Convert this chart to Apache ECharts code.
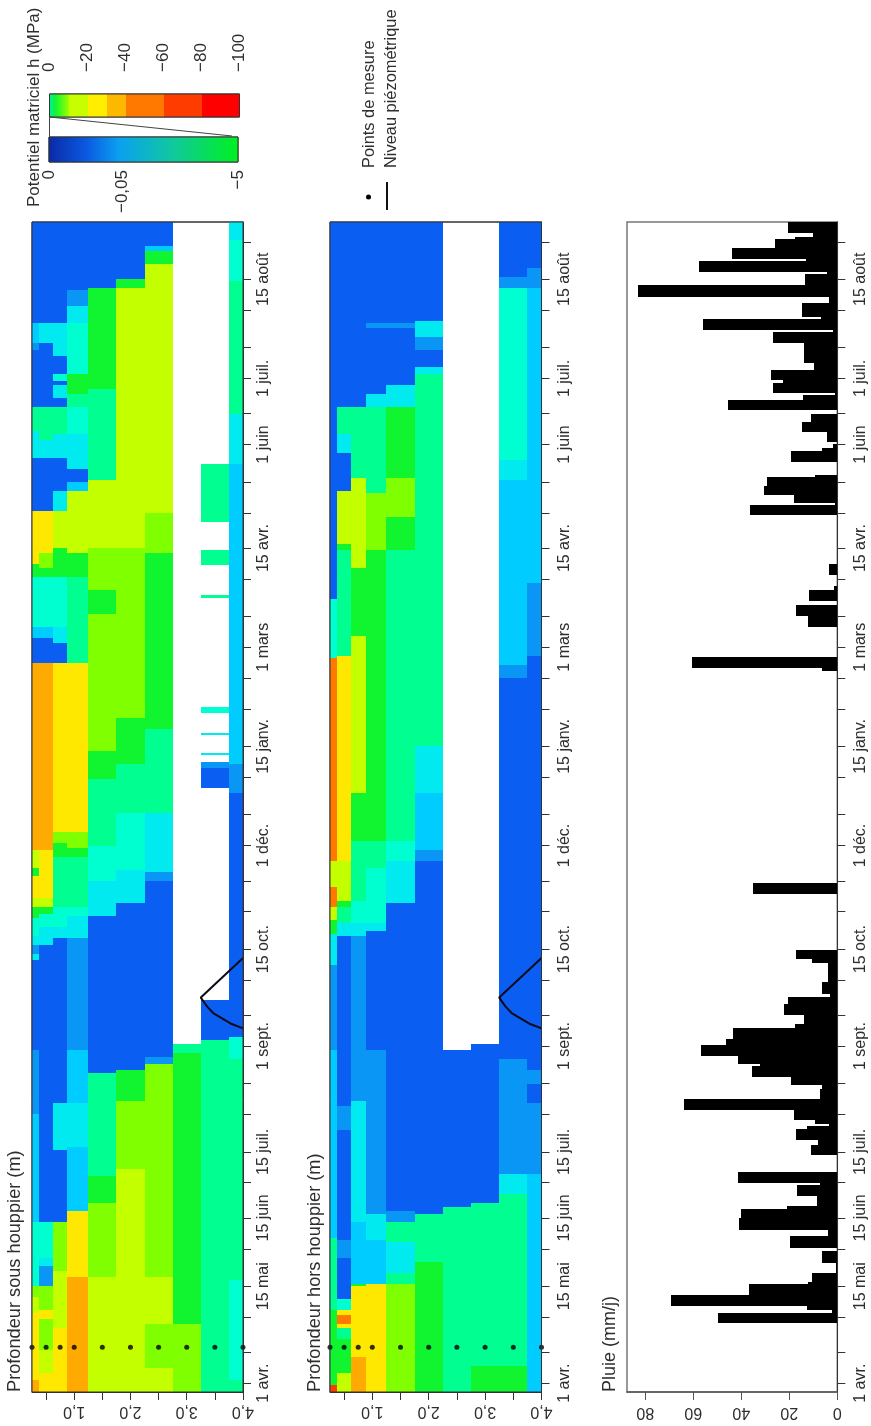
<!DOCTYPE html>
<html><head><meta charset="utf-8">
<style>html,body{margin:0;padding:0;background:#fff}#c{width:871px;height:1426px;filter:blur(0.5px)}</style>
<script src="https://cdn.jsdelivr.net/npm/echarts@6/dist/echarts.min.js"></script>
</head><body><div id="c"></div>
<script>
// ---- time axis (days since 1 avril) ----
const tickDays = [0,14,30,44,61,75,91,105,122,136,153,167,183,197,214,228,244,258,275,289,306,320,334,348,365,379,395,409,426,440,456,470,487,501,518];
const labelDays = [0,44,75,105,153,197,244,289,334,379,426,456,501];
const labelTexts = ['1 avr.','15 mai','15 juin','15 juil.','1 sept.','15 oct.','1 déc.','15 janv.','1 mars','15 avr.','1 juin','1 juil.','15 août'];
// ---- depth axis ----
const depthEdges = [0.25,0.38,0.63,0.88,1.25,1.75,2.25,2.75,3.25,3.75,4];
const depthTicks = [0.5,1,1.5,2,2.5,3,3.5,4];
const depthLabels = [1,2,3,4];
const pointDepths = [0.25,0.5,0.75,1,1.5,2,2.5,3,3.5,4];
const pointDay = 16.3;
// ---- potential classes, from wet (0) to dry (12) ----
const classColors = ['#0a5ff2','#0a96f5','#00ccff','#00eaf0','#00ffd0','#00ff90','#10f530','#80ff00','#c4ff00','#ffe800','#ffaa00','#ff7800','#ff3c00'];
// ---- sous houppier: [day until which the class holds, class] per depth layer ----
const sous0 = [[1.4,10],[32,9],[39,8],[44,7],[73,4],[122,2],[151,1],[192,0],[195,3],[199,1],[203,3],[211,4],[216,6],[220,8],[230,9],[234,6],[242,8],[327,10],[338,0],[343,2],[366,4],[372,6],[396,9],[420,0],[432,3],[443,5],[469,0],[472,1],[481,2],[527,0]];
const sous1 = [[4.5,9],[15,8],[29,7],[33,9],[44,7],[53,1],[57,3],[73,4],[199,0],[207,3],[213,4],[216,6],[220,8],[242,9],[327,10],[338,0],[343,2],[366,4],[370,6],[377,7],[396,9],[420,0],[428,3],[443,5],[472,0],[481,3],[527,0]];
const sous2 = [[25,9],[51,8],[73,7],[106,0],[127,3],[202,0],[207,3],[216,4],[239,5],[245,6],[250,7],[327,9],[336,0],[343,3],[366,4],[379,6],[396,8],[405,3],[420,0],[431,3],[443,5],[447,0],[453,3],[455,0],[458,4],[466,0],[481,3],[527,0]];
const sous3 = [[48,10],[78,9],[107,2],[127,3],[151,2],[202,1],[212,3],[216,4],[239,5],[243,6],[250,7],[327,9],[366,5],[377,6],[405,8],[409,2],[415,0],[431,3],[443,4],[449,5],[458,6],[481,4],[489,3],[496,1],[527,0]];
const sous4 = [[48,8],[82,7],[94,6],[141,5],[212,0],[228,3],[244,4],[274,5],[287,6],[349,7],[360,6],[379,7],[410,8],[451,5],[497,6],[527,0]];
const sous5 = [[97,8],[128,7],[142,6],[218,0],[233,3],[259,4],[281,5],[302,6],[379,7],[497,8],[501,6],[527,0]];
const sous6 = [[7,8],[27,7],[48,8],[145,7],[148,1],[228,0],[232,1],[259,3],[297,5],[377,6],[395,7],[508,8],[514,6],[516,2],[527,0]];
const sous7 = [[27,7],[150,6],[154,5],[527,null]];
const sous8 = [[155.6,5],[174,0],[270,null],[279,0],[282,1],[285,null],[286,3],[294,null],[295,3],[304,null],[307,4],[356.5,null],[357.5,5],[371.5,null],[378,5],[391,null],[417,5],[527,null]];
const sous9 = [[1.4,5],[47,4],[147,5],[157,4],[268,0],[281,1],[417,2],[440,3],[500,5],[519,4],[527,3]];
// ---- hors houppier ----
const hors0 = [[-1,12],[33,6],[66,5],[151,2],[190,1],[204,3],[210,6],[216,8],[225,11],[237,8],[329,11],[356,4],[527,0]];
const hors1 = [[4.5,8],[20,6],[25,5],[27,9],[31,11],[33,9],[38,4],[57,0],[65,1],[115,0],[126,1],[203,0],[209,3],[216,5],[219,6],[237,8],[330,9],[378,5],[381,6],[405,8],[422,0],[431,3],[443,5],[527,0]];
const hors2 = [[12,10],[44,9],[45,6],[73,2],[128,3],[203,1],[209,3],[219,4],[246,5],[268,6],[339,8],[370,6],[411,8],[443,5],[527,0]];
const hors3 = [[45,9],[65,2],[77,3],[151,1],[205,0],[209,3],[234,4],[246,5],[378,6],[404,7],[443,5],[449,3],[479,0],[481,1],[527,0]];
const hors4 = [[45,7],[50,5],[64,3],[73,5],[78,1],[218,0],[237,3],[246,4],[378,5],[393,6],[411,7],[443,6],[453,3],[479,0],[481,1],[527,0]];
const hors5 = [[55,6],[77,5],[237,0],[242,1],[268,2],[289,3],[458,5],[461,3],[469,0],[475,1],[482,3],[527,0]];
const hors6 = [[80,5],[151,0],[527,null]];
const hors7 = [[8,6],[82,5],[154,0],[527,null]];
const hors8 = [[8,6],[86,5],[95,3],[147,1],[320,0],[326,1],[410,2],[419,3],[497,4],[502,1],[527,0]];
const hors9 = [[95,2],[127,1],[136,0],[142,1],[330,0],[363,1],[497,2],[506,1],[527,0]];
// ---- niveau piézométrique ----
const piezoDays = [161,163,168,171,175,193];
const piezoDepth = [4,3.8,3.47,3.36,3.25,4];
// ---- pluie ----
const rainEdges = [27.3,31.9,33.1,35.2,40,44.9,45.9,50.2,54.6,60,61.5,66.7,69.7,74.8,79.1,80.6,85.1,90,91,95.9,103.4,108,110.2,115.5,116.6,117.8,119.3,124.2,128.8,133.7,135.2,139,143.8,144.7,148.4,153.4,156.4,161.4,163.2,167.3,172,175.3,176.5,182,190.5,192.3,196.8,222.2,227.2,323.3,324.4,329.4,343.3,348.4,353,355.2,360.2,362,367,371.9,393.8,398.4,399.4,402.9,407.4,411.2,412.3,418,423,424.5,426.4,427.1,431.6,436.2,440,441.5,446,448.3,449.3,453.9,455.1,460,463.1,467.5,472,477,478.1,483.1,484.1,490.2,492.9,498.2,503.2,504.3,509.3,510.3,515.2,519.4,520.2,522.1,527];
const rainMm = [49.6,2.4,12.5,69.4,36.8,12,10.4,0.5,6.5,0,19.7,3.75,41,40.3,20.8,8.6,16.7,7.2,41.25,0,11,8,17,12.8,3.3,9.3,18,63.9,7,6.5,19.3,35.7,32,41.4,56.8,46.25,43.3,17.6,13.9,22,20.4,3,6.5,3.75,10.7,17,0,35,0,6.5,60.5,0,12,17,0,11.7,1.3,0,3.3,0,36.2,1,18,30.7,29.2,9.3,0,19.2,6.5,1.7,0,4.3,14.9,11.1,0,45.6,14.2,1,26.7,22.5,27.8,9.6,13.75,13.9,26.7,1.7,56,6.8,14.6,3.6,82.9,13.5,4.4,57.8,13,43.9,25.8,17.6,10,20.6];
const rainTicks = [0,20,40,60,80];
// ---- legend scales ----
const dryStops = [0,10,20,30,40,60,80,100];
const dryColors = ['grad','#c8ff00','#ffee00','#ffb800','#ff7800','#ff3c00','#ff0000'];
const dryTicks = [0,20,40,60,80,100];
const wetTicks = [0,0.39,1];
const wetTexts = ['0','−0,05','−5'];

const FONT = '"Liberation Sans", Arial, sans-serif';
const INK = '#2e2e2e';
const FS = 16;

function heatData(layers){
  const out = [];
  layers.forEach((layer,i)=>{
    let start = -4;
    layer.forEach(([end,cls])=>{
      if(cls!==null) out.push([depthEdges[i],depthEdges[i+1],start,end,cls]);
      start = end;
    });
  });
  return out;
}
function rectItem(p0,p1,fill){
  const x0=Math.round(p0[0]),x1=Math.round(p1[0]),y0=Math.round(p0[1]),y1=Math.round(p1[1]);
  return {type:'rect',shape:{x:Math.min(x0,x1),y:Math.min(y0,y1),width:Math.abs(x1-x0),height:Math.abs(y1-y0)},style:{fill}};
}
function heatItem(params,api){
  return rectItem(api.coord([api.value(0),api.value(3)]),api.coord([api.value(1),api.value(2)]),classColors[api.value(4)]);
}
function dayAxis(grid,margin){
  return {type:'value',gridIndex:grid,position:'right',min:-4,max:527,splitLine:{show:false},
    axisLine:{show:true,onZero:false,lineStyle:{color:'#333',width:1}},
    axisTick:{show:true,length:8,customValues:tickDays,lineStyle:{color:'#333',width:1}},
    axisLabel:{show:true,rotate:90,margin,color:INK,fontSize:FS,fontFamily:FONT,customValues:labelDays,
      formatter:v=>labelTexts[labelDays.indexOf(v)]}};
}
function depthAxis(grid){
  return {type:'value',gridIndex:grid,position:'bottom',min:0.25,max:4,splitLine:{show:false},
    axisLine:{show:true,onZero:false,lineStyle:{color:'#333',width:1}},
    axisTick:{show:true,length:8,customValues:depthTicks,lineStyle:{color:'#333',width:1}},
    axisLabel:{show:true,rotate:180,margin:11,color:INK,fontSize:FS,fontFamily:FONT,customValues:depthLabels,
      formatter:v=>v.toFixed(1).replace('.',',')}};
}
function heatSeries(grid,layers){
  return {type:'custom',xAxisIndex:grid,yAxisIndex:grid,renderItem:heatItem,clip:true,silent:true,
    encode:{x:[0,1],y:[2,3]},data:heatData(layers),z:2};
}
function piezoSeries(grid){
  return {type:'line',xAxisIndex:grid,yAxisIndex:grid,data:piezoDepth.map((d,i)=>[d,piezoDays[i]]),symbol:'none',
    clip:true,lineStyle:{color:'#0a0a1a',width:2},z:4,silent:true};
}
function pointSeries(grid){
  return {type:'scatter',xAxisIndex:grid,yAxisIndex:grid,data:pointDepths.map(d=>[d,pointDay]),symbol:'circle',symbolSize:5,
    clip:false,itemStyle:{color:'#000'},z:5,silent:true};
}
function rotText(text,x,y,size){
  return {type:'text',x,y,rotation:Math.PI/2,z:10,style:{text,x:0,y:0,fill:INK,font:`${size}px ${FONT}`,textAlign:'left',textVerticalAlign:'middle'}};
}
function outline(x,y,w,h,stroke){
  return {type:'rect',shape:{x,y,width:w,height:h},style:{fill:null,stroke,lineWidth:1},z:9,silent:true};
}
const frame = {show:true,borderColor:'#333',borderWidth:1,backgroundColor:'#fff'};
const rainRows = rainMm.map((m,i)=>[m,rainEdges[i],rainEdges[i+1]]).filter(r=>r[0]>0);
const dryRows = dryColors.map((c,i)=>[dryStops[i],dryStops[i+1],i]);

const option = {
  animation:false,backgroundColor:'#fff',
  grid:[
    Object.assign({left:32,top:222,width:211,height:1170},frame),
    Object.assign({left:330,top:222,width:211.5,height:1170},frame),
    Object.assign({left:627,top:222,width:210.3,height:1170},frame,{borderColor:'#777',borderWidth:1.5}),
    Object.assign({left:49.5,top:94,width:190,height:23},frame),
    Object.assign({left:49,top:137,width:189,height:25},frame)
  ],
  xAxis:[depthAxis(0),depthAxis(1),
    {type:'value',gridIndex:2,position:'bottom',inverse:true,min:0,max:87.6,splitLine:{show:false},
      axisLine:{show:true,onZero:false,lineStyle:{color:'#555',width:1.5}},
      axisTick:{show:true,length:8,customValues:rainTicks,lineStyle:{color:'#555'}},
      axisLabel:{show:true,rotate:180,margin:12,color:INK,fontSize:FS,fontFamily:FONT,customValues:rainTicks}},
    {type:'value',gridIndex:3,position:'top',min:0,max:100,splitLine:{show:false},
      axisLine:{show:false},
      axisTick:{show:true,length:8,customValues:dryTicks,lineStyle:{color:'#333'}},
      axisLabel:{show:true,rotate:90,margin:22,color:INK,fontSize:17,fontFamily:FONT,customValues:dryTicks,
        formatter:v=>v===0?'0':'−'+v}},
    {type:'value',gridIndex:4,position:'bottom',min:0,max:1,splitLine:{show:false},
      axisLine:{show:false},axisTick:{show:false},
      axisLabel:{show:true,rotate:90,margin:8,color:INK,fontSize:17,fontFamily:FONT,customValues:wetTicks,
        formatter:v=>wetTexts[wetTicks.indexOf(v)]}}
  ],
  yAxis:[dayAxis(0,13),dayAxis(1,15),dayAxis(2,15),
    {type:'value',gridIndex:3,min:0,max:1,show:false},
    {type:'value',gridIndex:4,min:0,max:1,show:false}
  ],
  series:[
    heatSeries(0,[sous0,sous1,sous2,sous3,sous4,sous5,sous6,sous7,sous8,sous9]),
    piezoSeries(0),pointSeries(0),
    heatSeries(1,[hors0,hors1,hors2,hors3,hors4,hors5,hors6,hors7,hors8,hors9]),
    piezoSeries(1),pointSeries(1),
    {type:'custom',xAxisIndex:2,yAxisIndex:2,clip:true,silent:true,encode:{x:0,y:[1,2]},data:rainRows,z:3,
      renderItem:(p,api)=>rectItem(api.coord([api.value(0),api.value(2)]),api.coord([0,api.value(1)]),'#000')},
    {type:'custom',xAxisIndex:3,yAxisIndex:3,silent:true,encode:{x:[0,1]},data:dryRows,z:3,
      renderItem:(p,api)=>{
        const c=dryColors[api.value(2)];
        const r=rectItem(api.coord([api.value(0),1]),api.coord([api.value(1),0]),c);
        if(c==='grad') r.style.fill=new echarts.graphic.LinearGradient(0,0,1,0,[{offset:0,color:'#00f090'},{offset:.3,color:'#10f530'},{offset:1,color:'#a0ff00'}]);
        return r;
      }},
    {type:'custom',xAxisIndex:4,yAxisIndex:4,silent:true,encode:{x:0},data:[[0,1]],z:3,
      renderItem:(p,api)=>{
        const r=rectItem(api.coord([0,1]),api.coord([1,0]),'#000');
        r.style.fill=new echarts.graphic.LinearGradient(0,0,1,0,[{offset:0,color:'#0a2aa8'},{offset:.2,color:'#0a5ae0'},{offset:.37,color:'#0aa0f0'},{offset:.65,color:'#10c8a0'},{offset:1,color:'#00f020'}]);
        return r;
      }}
  ],
  graphic:{elements:[
    rotText('Potentiel matriciel h (MPa)',34.5,207,17),
    rotText('Profondeur sous houppier (m)',14.5,1392,18.2),
    rotText('Profondeur hors houppier (m)',314.5,1392,18.2),
    rotText('Pluie (mm/j)',610,1392,18),
    rotText('Points de mesure',369,168,16.4),
    rotText('Niveau piézométrique',391,168,16.4),
    {type:'circle',shape:{cx:368.5,cy:197,r:2.5},style:{fill:'#000'},z:10},
    {type:'line',shape:{x1:387,y1:182,x2:387,y2:210},style:{stroke:'#111',lineWidth:2},z:10},
    {type:'polyline',shape:{points:[[49.5,137],[49.5,117],[232,136]]},style:{stroke:'#444',fill:null,lineWidth:1},z:10},
    outline(32,222,211,1170,'#333'),
    outline(330,222,211.5,1170,'#333'),
    outline(49.5,94,190,23,'#333'),
    outline(49,137,189,25,'#333')
  ]}
};
echarts.init(document.getElementById('c'),null,{renderer:'canvas'}).setOption(option);
</script></body></html>
